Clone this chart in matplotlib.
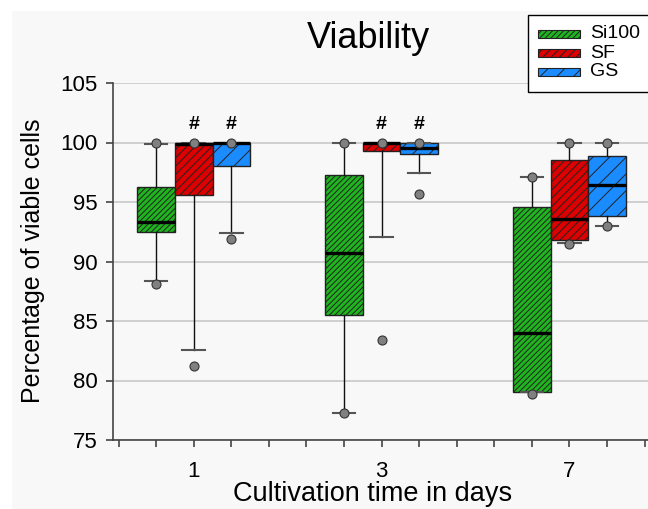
import matplotlib
matplotlib.use("Agg")
import matplotlib.pyplot as plt
from matplotlib.patches import Rectangle

plt.rcParams['font.family'] = ['Liberation Sans', 'DejaVu Sans']
plt.rcParams['hatch.linewidth'] = 0.7
plt.rcParams['hatch.color'] = 'black'

# ---- data ----
days = ["1", "3", "7"]
series = ["Si100", "SF", "GS"]

si100_q1 = [92.5, 85.5, 79.0]
si100_med = [93.35, 90.75, 83.95]
si100_q3 = [96.3, 97.25, 94.6]
si100_lo = [88.35, 77.3, 79.0]
si100_hi = [99.85, 100.0, 97.1]
si100_fliers = [[100.0, 88.1], [100.0, 77.25], [97.1, 78.9]]

sf_q1 = [95.6, 99.25, 91.8]
sf_med = [99.9, 99.95, 93.55]
sf_q3 = [100.0, 100.0, 98.55]
sf_lo = [82.55, 92.05, 91.55]
sf_hi = [100.0, 100.0, 100.0]
sf_fliers = [[100.0, 81.2], [100.0, 83.4], [100.0, 91.5]]

gs_q1 = [98.05, 99.0, 93.8]
gs_med = [99.95, 99.5, 96.4]
gs_q3 = [100.0, 99.95, 98.85]
gs_lo = [92.4, 97.45, 92.95]
gs_hi = [100.0, 100.0, 100.0]
gs_fliers = [[100.0, 91.9], [100.0, 95.65], [100.0, 92.95]]

# significance marks: (series index, day index)
sig_marks = [(1, 0), (2, 0), (1, 1), (2, 1)]
sig_y = 101.55

colors = ["#1fb51f", "#dc0000", "#1a8cff"]
hatches = ["//////", "////", "//"]

all_stats = [
    (si100_q1, si100_med, si100_q3, si100_lo, si100_hi, si100_fliers),
    (sf_q1, sf_med, sf_q3, sf_lo, sf_hi, sf_fliers),
    (gs_q1, gs_med, gs_q3, gs_lo, gs_hi, gs_fliers),
]

W, H = 648, 509
fig = plt.figure(figsize=(W / 100, H / 100), dpi=100)
fig.patch.set_facecolor("white")
fig.add_artist(Rectangle((12 / W, 0), 1, 1 - 11 / H, transform=fig.transFigure,
                         facecolor="#f8f8f8", edgecolor="none", zorder=-10))

ax = fig.add_axes([113 / W, 1 - 440 / H, 1 - 113 / W, (440 - 83) / H])
ax.set_facecolor("#f8f8f8")

group_gap = 5
for si, (q1, med, q3, lo, hi, fl) in enumerate(all_stats):
    stats = []
    for di in range(len(days)):
        stats.append(dict(q1=q1[di], med=med[di], q3=q3[di],
                          whislo=lo[di], whishi=hi[di], fliers=fl[di]))
    pos = [1 + si + di * group_gap for di in range(len(days))]
    bp = ax.bxp(stats, positions=pos, widths=1.0, capwidths=0.6,
                patch_artist=True, showfliers=True,
                boxprops=dict(facecolor=colors[si], edgecolor="#222222",
                              linewidth=1.0, hatch=hatches[si]),
                medianprops=dict(color="black", linewidth=2.4),
                whiskerprops=dict(color="#111111", linewidth=1.0),
                capprops=dict(color="#555555", linewidth=1.5),
                flierprops=dict(marker="o", markersize=6.5,
                                markerfacecolor="#808080",
                                markeredgecolor="#333333",
                                markeredgewidth=0.8))
    for b in bp["boxes"]:
        b.set_zorder(2)
    for m in bp["medians"]:
        m.set_zorder(3)
    for f in bp["fliers"]:
        f.set_zorder(4)

for si, di in sig_marks:
    ax.text(1 + si + di * group_gap, sig_y, "#", ha="center", va="center",
            fontsize=14, fontweight="bold")

ax.set_ylim(75, 105)
ax.set_xlim(-0.149, 14.09)
ax.set_yticks([75, 80, 85, 90, 95, 100, 105])
ax.yaxis.grid(True, color="#c8c8c8", linewidth=1.2, zorder=0)
ax.set_axisbelow(True)

ax.set_xticks(range(0, 15))
labels = [""] * 15
for di, d in enumerate(days):
    labels[2 + di * group_gap] = d
ax.set_xticklabels(labels)

ax.tick_params(axis="both", labelsize=16, color="#444444", width=1.2, length=5,
               direction="out")
ax.tick_params(axis="x", pad=10)
ax.tick_params(axis="y", pad=6)
for s in ["top", "right"]:
    ax.spines[s].set_visible(False)
for s in ["left", "bottom"]:
    ax.spines[s].set_color("#444444")
    ax.spines[s].set_linewidth(1.2)

fig.text(368 / W, 1 - 38 / H, "Viability", ha="center", va="center", fontsize=26)
fig.text(373 / W, 1 - 494 / H, "Cultivation time in days", ha="center",
         va="center", fontsize=19.5)
fig.text(33 / W, 1 - 261 / H, "Percentage of viable cells", ha="center",
         va="center", fontsize=18, rotation=90)

# legend (frame, swatches, labels)
fig.add_artist(Rectangle((528 / W, 1 - 92 / H), 130 / W, 77 / H,
                         transform=fig.transFigure, facecolor="white",
                         edgecolor="black", linewidth=1.0, zorder=5))
row_y = [34, 53, 72]
for i, name in enumerate(series):
    fig.add_artist(Rectangle((538 / W, 1 - (row_y[i] + 3.5) / H), 42 / W, 7 / H,
                             transform=fig.transFigure, facecolor=colors[i],
                             edgecolor="#222222", linewidth=0.8,
                             hatch=hatches[i], zorder=6))
    fig.text(590 / W, 1 - row_y[i] / H, name, ha="left", va="center",
             fontsize=14, zorder=7)

fig.savefig("out.png", dpi=100)
